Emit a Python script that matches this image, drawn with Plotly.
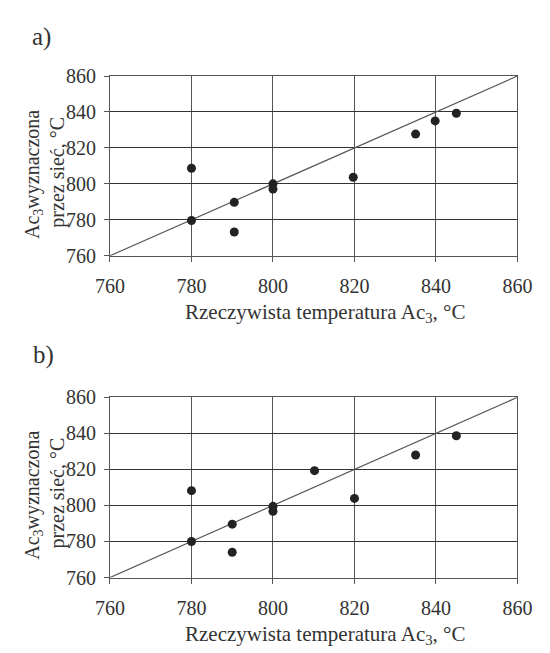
import plotly.graph_objects as go

# Data
ticks = [760, 780, 800, 820, 840, 860]
diag = [760, 860]

a_actual = [780, 780, 790.5, 790.5, 800, 800, 819.7, 835, 839.8, 845]
a_pred = [808.7, 779.6, 789.7, 773.2, 800.0, 797.1, 803.7, 827.7, 835.0, 839.3]

b_actual = [780, 780, 790, 790, 800, 800, 810.2, 820, 835, 845]
b_pred = [808.2, 780.0, 789.6, 774.0, 799.5, 796.8, 819.3, 803.9, 828.0, 838.7]

FONT = "Liberation Serif"
W, H = 550, 653

def px(x):
    return x / W

def py(y):
    return 1 - y / H

fig = go.Figure()

for i, (xa, ya) in enumerate([(a_actual, a_pred), (b_actual, b_pred)]):
    xr = "x" if i == 0 else "x2"
    yr = "y" if i == 0 else "y2"
    fig.add_trace(go.Scatter(x=diag, y=diag, mode="lines", xaxis=xr, yaxis=yr,
                             line=dict(color="#555555", width=1.2), showlegend=False,
                             hoverinfo="skip"))
    fig.add_trace(go.Scatter(x=xa, y=ya, mode="markers", xaxis=xr, yaxis=yr,
                             marker=dict(color="#222222", size=9), showlegend=False))

common = dict(range=[760, 860], tickvals=ticks, showgrid=True,
              showline=True, mirror=True, linecolor="#555555", linewidth=1,
              ticks="outside", ticklen=5, tickcolor="#555555",
              tickfont=dict(family=FONT, size=20, color="#333333"),
              zeroline=False, fixedrange=True)
xcommon = dict(common, gridcolor="#555555", gridwidth=1, ticklabelstandoff=7)
ycommon = dict(common, gridcolor="#333333", gridwidth=1.4, ticklabelstandoff=4)

x_dom = [px(92), px(523)]
fig.update_layout(
    width=W, height=H,
    margin=dict(l=0, r=0, t=0, b=0),
    paper_bgcolor="white", plot_bgcolor="white",
    xaxis=dict(domain=x_dom, anchor="y", **xcommon),
    yaxis=dict(domain=[py(245), py(59)], anchor="x", **ycommon),
    xaxis2=dict(domain=x_dom, anchor="y2", **xcommon),
    yaxis2=dict(domain=[py(578), py(391.5)], anchor="x2", **ycommon),
)

xtitle = "Rzeczywista temperatura Ac<sub>3</sub>, °C"
ytitle1 = "Ac<sub>3</sub>wyznaczona"
ytitle2 = "przez sieć, °C"

annots = [
    dict(text="a)", x=px(7), y=py(19), xanchor="left", yanchor="middle", font=dict(size=25)),
    dict(text="b)", x=px(8), y=py(348), xanchor="left", yanchor="middle", font=dict(size=25)),
    dict(text=xtitle, x=px(319), y=py(304), xanchor="center", yanchor="middle", font=dict(size=21)),
    dict(text=xtitle, x=px(319), y=py(637), xanchor="center", yanchor="middle", font=dict(size=21)),
]
for yc in (161, 493):
    annots.append(dict(text=ytitle1, x=px(11), y=py(yc), xanchor="center", yanchor="middle",
                       textangle=-90, font=dict(size=20)))
    annots.append(dict(text=ytitle2, x=px(37), y=py(yc - 3), xanchor="center", yanchor="middle",
                       textangle=-90, font=dict(size=20)))
for a in annots:
    a.update(xref="paper", yref="paper", showarrow=False)
    a["font"].update(family=FONT, color="#333333")
fig.update_layout(annotations=annots)

fig.write_html("out.html")
